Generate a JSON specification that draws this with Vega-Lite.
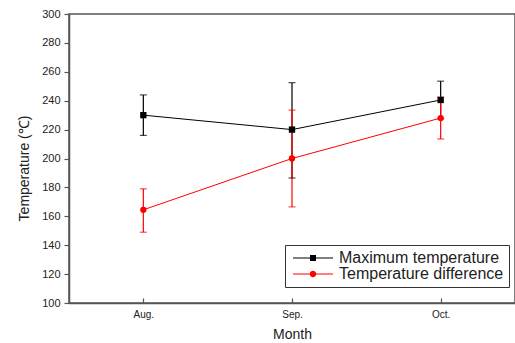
{
  "$schema": "https://vega.github.io/schema/vega-lite/v6.json",
  "width": 446,
  "height": 289,
  "autosize": {"type": "none"},
  "padding": {"left": 69, "top": 14, "right": 0, "bottom": 40},
  "background": "white",
  "config": {
    "font": "Liberation Sans",
    "view": {"stroke": "#555", "strokeWidth": 1.5},
    "axis": {"grid": false, "domainColor": "#555", "domainWidth": 1.5, "tickColor": "#555", "tickWidth": 1.2, "labelColor": "#222", "titleColor": "#222", "titleFontWeight": "normal", "titleFont": "Liberation Sans", "labelFont": "Liberation Sans", "labelOverlap": false},
    "axisY": {"tickCount": 20, "labelOverlap": false, "labelFontSize": 11, "tickSize": 5, "labelPadding": 4, "titleFontSize": 14, "titlePadding": 10}
  },
  "data": {
    "values": [
      {"month": "Aug.", "series": "Maximum temperature", "value": 230, "lo": 216, "hi": 244},
      {"month": "Sep.", "series": "Maximum temperature", "value": 220, "lo": 186.5, "hi": 252.5},
      {"month": "Oct.", "series": "Maximum temperature", "value": 240.5, "lo": 227.5, "hi": 253.5},
      {"month": "Aug.", "series": "Temperature difference", "value": 164.5, "lo": 149, "hi": 179},
      {"month": "Sep.", "series": "Temperature difference", "value": 200, "lo": 166.5, "hi": 233.5},
      {"month": "Oct.", "series": "Temperature difference", "value": 228, "lo": 213.5, "hi": 242.5}
    ]
  },
  "encoding": {
    "x": {
      "field": "month", "type": "ordinal", "sort": ["Aug.", "Sep.", "Oct."],
      "scale": {"type": "point", "padding": 0.5},
      "axis": {"title": "Month", "titleFontSize": 14, "titlePadding": 8, "labelAngle": 0, "labelFontSize": 10, "tickSize": -5, "labelPadding": 11}
    }
  },
  "layer": [
    {
      "mark": {"type": "rule", "strokeWidth": 1.2},
      "encoding": {
        "y": {"field": "lo", "type": "quantitative", "scale": {"domain": [100, 300], "nice": false},
          "axis": {"title": "Temperature (℃)", "titleY": 154, "values": [100,120,140,160,180,200,220,240,260,280,300], "tickCount": 20, "labelOverlap": false}},
        "y2": {"field": "hi"},
        "color": {"field": "series", "type": "nominal", "scale": {"domain": ["Maximum temperature", "Temperature difference"], "range": ["black", "red"]}, "legend": null}
      }
    },
    {
      "mark": {"type": "tick", "size": 7, "thickness": 1.2},
      "encoding": {
        "y": {"field": "lo", "type": "quantitative"},
        "color": {"field": "series", "type": "nominal", "scale": {"domain": ["Maximum temperature", "Temperature difference"], "range": ["black", "red"]}, "legend": null}
      }
    },
    {
      "mark": {"type": "tick", "size": 7, "thickness": 1.2},
      "encoding": {
        "y": {"field": "hi", "type": "quantitative"},
        "color": {"field": "series", "type": "nominal", "scale": {"domain": ["Maximum temperature", "Temperature difference"], "range": ["black", "red"]}, "legend": null}
      }
    },
    {
      "mark": {"type": "line", "strokeWidth": 1},
      "encoding": {
        "y": {"field": "value", "type": "quantitative"},
        "color": {"field": "series", "type": "nominal", "scale": {"domain": ["Maximum temperature", "Temperature difference"], "range": ["black", "red"]}, "legend": null}
      }
    },
    {
      "mark": {"type": "point", "filled": true, "opacity": 1, "size": 40, "strokeWidth": 0},
      "encoding": {
        "y": {"field": "value", "type": "quantitative"},
        "color": {"field": "series", "type": "nominal", "scale": {"domain": ["Maximum temperature", "Temperature difference"], "range": ["black", "red"]}, "legend": null},
        "shape": {"field": "series", "type": "nominal", "scale": {"domain": ["Maximum temperature", "Temperature difference"], "range": ["square", "circle"]}, "legend": null}
      }
    },
    {
      "transform": [{"filter": "false"}],
      "mark": {"type": "point", "filled": true, "opacity": 1, "size": 100},
      "encoding": {
        "y": {"field": "value", "type": "quantitative"},
        "color": {"field": "series", "type": "nominal", "scale": {"domain": ["Maximum temperature", "Temperature difference"], "range": ["black", "red"]},
          "legend": {"title": null, "orient": "none", "legendX": 216, "legendY": 231, "strokeColor": "#333", "fillColor": "white", "padding": 5, "labelFontSize": 16, "labelLimit": 300, "labelColor": "#222", "labelOffset": 33, "symbolSize": 100, "symbolStrokeWidth": 0, "rowPadding": 0}},
        "shape": {"field": "series", "type": "nominal", "scale": {"domain": ["Maximum temperature", "Temperature difference"], "range": ["M-1,-0.1H7V0.1H-1Z M2.4,-0.6H3.6V0.6H2.4Z", "M-1,-0.1H7V0.1H-1Z M2.35,0A0.65,0.65 0 1,1 3.65,0A0.65,0.65 0 1,1 2.35,0Z"]},
          "legend": {"title": null, "orient": "none", "legendX": 216, "legendY": 231, "strokeColor": "#333", "fillColor": "white", "padding": 5, "labelFontSize": 16, "labelLimit": 300, "labelColor": "#222", "labelOffset": 33, "symbolSize": 100, "symbolStrokeWidth": 0, "rowPadding": 0}}
      }
    }
  ],
  "resolve": {"scale": {"color": "independent", "shape": "independent"}}
}
